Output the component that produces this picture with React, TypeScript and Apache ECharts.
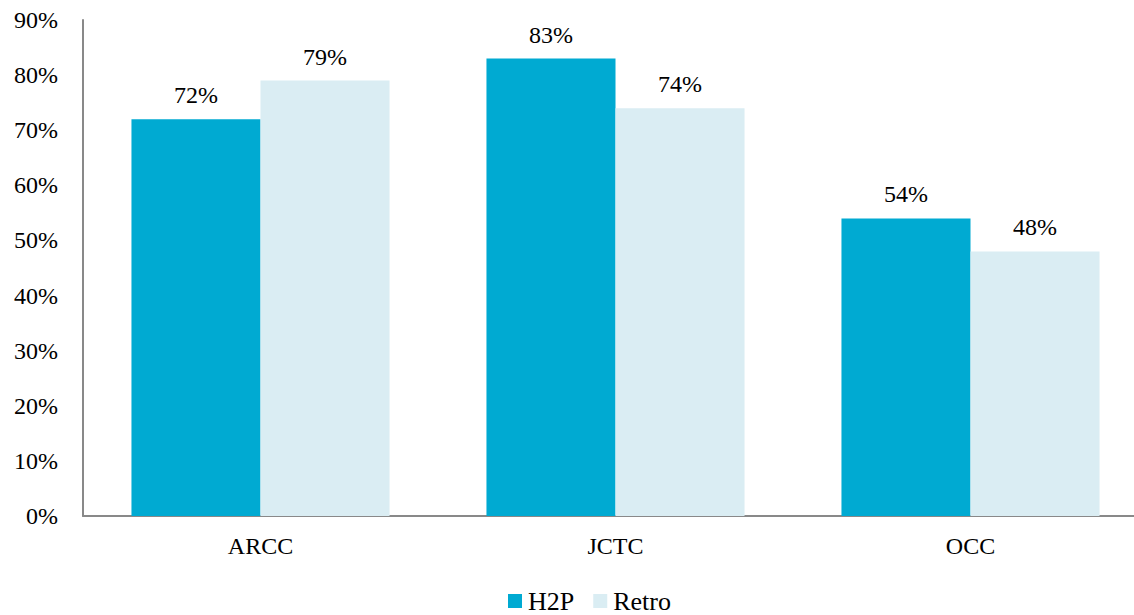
import React, { useEffect, useRef } from "react";
import * as echarts from "echarts";

const categories = ["ARCC", "JCTC", "OCC"];
const h2pValues = [72, 83, 54];
const retroValues = [79, 74, 48];
const seriesNames = ["H2P", "Retro"];

const FONT = "Liberation Serif, Times New Roman, serif";

export default function App() {
  const ref = useRef<HTMLDivElement>(null);
  useEffect(() => {
    document.body.style.margin = "0";
    const chart = echarts.init(ref.current!, null, { renderer: "svg" });
    const labelStyle = {
      show: true,
      position: "top" as const,
      formatter: "{c}%",
      fontFamily: FONT,
      fontSize: 24,
      color: "#000",
      distance: 12,
    };
    chart.setOption({
      animation: false,
      grid: {
        left: 83,
        width: 1065,
        top: 20,
        bottom: 99,
        containLabel: false,
        outerBoundsMode: "none",
      },
      legend: {
        data: seriesNames,
        top: 588,
        left: 508,
        padding: 0,
        itemWidth: 14,
        itemHeight: 14,
        itemGap: 19,
        icon: "rect",
        textStyle: { fontFamily: FONT, fontSize: 26, color: "#000", padding: [0, 0, 0, 1] },
      },
      xAxis: {
        type: "category",
        data: categories,
        axisLine: { show: true, lineStyle: { color: "#898989", width: 2 } },
        axisTick: { show: false },
        axisLabel: { fontFamily: FONT, fontSize: 24, color: "#000", margin: 18 },
      },
      yAxis: {
        type: "value",
        min: 0,
        max: 90,
        interval: 10,
        axisLine: { show: true, lineStyle: { color: "#898989", width: 2 } },
        axisTick: { show: false },
        splitLine: { show: false },
        axisLabel: { formatter: "{value}%", fontFamily: FONT, fontSize: 24, color: "#000", margin: 25 },
      },
      series: [
        {
          name: seriesNames[0],
          type: "bar",
          data: h2pValues,
          barGap: "0%",
          barCategoryGap: "27.3%",
          itemStyle: { color: "#00AAD2" },
          label: labelStyle,
        },
        {
          name: seriesNames[1],
          type: "bar",
          data: retroValues,
          barGap: "0%",
          barCategoryGap: "27.3%",
          itemStyle: { color: "#DAEDF3" },
          label: labelStyle,
        },
      ],
    });
    return () => chart.dispose();
  }, []);
  return <div ref={ref} style={{ width: 1134, height: 615, overflow: "hidden" }} />;
}
